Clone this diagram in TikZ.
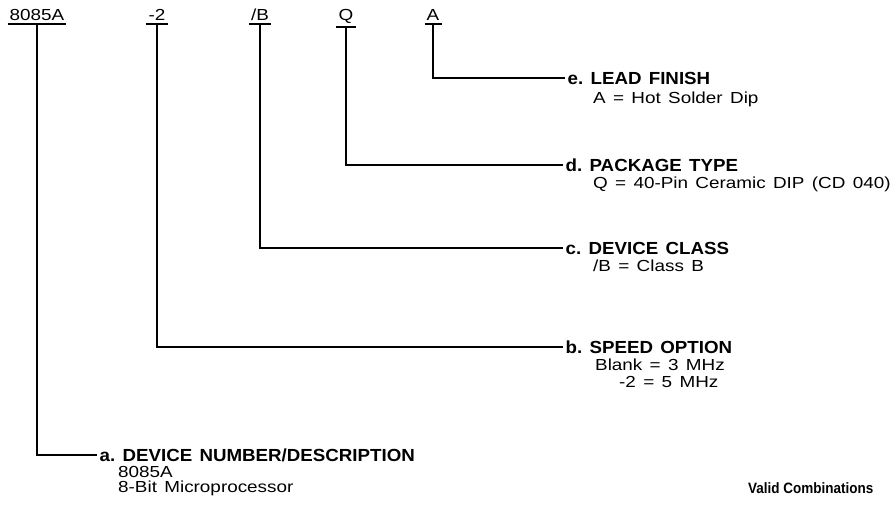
\documentclass[tikz,border=0pt]{standalone}
\usepackage{fontspec}
\setmainfont[FakeStretch=1.18,WordSpace=1.4]{Liberation Sans}
\newfontfamily\hdfamily[FakeStretch=1.07,WordSpace=1.4]{Liberation Sans Bold}
\newfontfamily\vcfamily[FakeStretch=0.9]{Liberation Sans Bold}
\newcommand{\rmsz}{\fontsize{16}{18}\selectfont}
\newcommand{\hdsz}{\hdfamily\fontsize{17.5}{19}\selectfont}
\newcommand{\vcsz}{\vcfamily\fontsize{15}{16}\selectfont}
\begin{document}
\begin{tikzpicture}[x=1pt,y=-1pt,
  lbl/.style={inner xsep=0pt,inner ysep=2.8pt,font=\rmsz,anchor=base},
  hdr/.style={inner xsep=2.5pt,inner ysep=0pt,anchor=west,font=\hdsz},
  sub/.style={inner sep=0pt,anchor=west,font=\rmsz},
  conn/.style={line width=1.35pt},
  uline/.style={line width=1.35pt}]
\fill[white] (0,0) rectangle (895,505);
\useasboundingbox (0,0) rectangle (895,505);
% top labels
\node[lbl] (l8085) at (37,21) {8085A};
\node[lbl] (l2) at (157,21) {-2};
\node[lbl] (lB) at (260,21) {/B};
\node[lbl] (lQ) at (346,21) {Q};
\node[lbl] (lA) at (433,21) {A};
\foreach \n in {l8085,l2,lB,lQ,lA}
  \draw[uline] ([xshift=-2pt]\n.south west) -- ([xshift=2pt]\n.south east);
% headers
\node[hdr] (hE) at (565,78) {e.\ LEAD FINISH};
\node[hdr] (hD) at (563,165) {d.\ PACKAGE TYPE};
\node[hdr] (hC) at (563,248) {c.\ DEVICE CLASS};
\node[hdr] (hB) at (563,347) {b.\ SPEED OPTION};
\node[hdr] (hA) at (97,455) {a.\ DEVICE NUMBER/DESCRIPTION};
% sub texts
\node[sub] (sE) at (593,99) {A = Hot Solder Dip};
\node[sub] (sD) at (593,184) {Q = 40-Pin Ceramic DIP (CD 040)};
\node[sub] (sC) at (593,266) {/B = Class B};
\node[sub] (sB1) at (595,365) {Blank = 3 MHz};
\node[sub] (sB2) at (619,382) {-2 = 5 MHz};
\node[sub] (sA1) at (118,472) {8085A};
\node[sub] (sA2) at (118,488) {8-Bit Microprocessor};
\node[anchor=west,inner sep=0pt,font=\vcsz] (vc) at (748,488) {Valid Combinations};
% connectors
\draw[conn] (lA.south) |- (hE.west);
\draw[conn] (lQ.south) |- (hD.west);
\draw[conn] (lB.south) |- (hC.west);
\draw[conn] (l2.south) |- (hB.west);
\draw[conn] (l8085.south) |- (hA.west);
\end{tikzpicture}
\end{document}
